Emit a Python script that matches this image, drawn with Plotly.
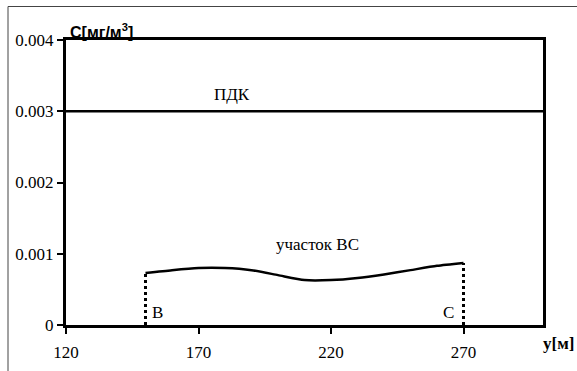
import plotly.graph_objects as go

# data
y_m = [150, 160, 170, 180, 190, 200, 210, 220, 230, 240, 250, 260, 270]
conc = [0.00073, 0.00077, 0.00080, 0.00080, 0.00077, 0.00070, 0.00063, 0.00063,
        0.00066, 0.00071, 0.00077, 0.00083, 0.00087]
pdk_x = [120, 300]
pdk_val = [0.003, 0.003]
x_ticks = [120, 170, 220, 270]
y_ticks = [0, 0.001, 0.002, 0.003, 0.004]
y_tick_labels = ["0", "0.001", "0.002", "0.003", "0.004"]

serif = "Times New Roman, Liberation Serif, serif"
sans = "Arial, Liberation Sans, sans-serif"

L, R, T, B = 66, 34, 40, 46
W, H = 577, 371
PW, PH = W - L - R, H - T - B


def px_x(p):
    return (p - L) / PW


def px_y(p):
    return (H - p - B) / PH


fig = go.Figure()

fig.add_trace(go.Scatter(x=pdk_x, y=pdk_val, mode="lines",
                         line=dict(color="black", width=2.5), hoverinfo="skip"))
fig.add_trace(go.Scatter(x=y_m, y=conc, mode="lines",
                         line=dict(color="black", width=2.5, shape="spline", smoothing=0.6),
                         hoverinfo="skip"))
fig.add_trace(go.Scatter(x=[y_m[0], y_m[0]], y=[0, conc[0]], mode="lines",
                         line=dict(color="black", width=3, dash="dot"), hoverinfo="skip"))
fig.add_trace(go.Scatter(x=[y_m[-1], y_m[-1]], y=[0, conc[-1]], mode="lines",
                         line=dict(color="black", width=3, dash="dot"), hoverinfo="skip"))

fig.update_layout(
    width=W, height=H,
    margin=dict(l=L, r=R, t=T, b=B, autoexpand=False),
    paper_bgcolor="white", plot_bgcolor="white",
    showlegend=False,
    font=dict(family=serif, size=17, color="black"),
    xaxis=dict(tickfont=dict(family=serif, size=17, color="black")),
    yaxis=dict(tickfont=dict(family=serif, size=17, color="black")),
)
fig.update_xaxes(range=[120, 300], tickvals=x_ticks, ticktext=[str(v) for v in x_ticks],
                 showgrid=False, zeroline=False, showline=True, linecolor="black",
                 linewidth=3, mirror=True, ticks="outside", ticklen=6, tickwidth=1.5,
                 tickcolor="black", automargin=False, ticklabelstandoff=4)
fig.update_yaxes(range=[0, 0.004], tickvals=y_ticks, ticktext=y_tick_labels,
                 showgrid=False, zeroline=False, showline=True, linecolor="black",
                 linewidth=3, mirror=True, ticks="outside", ticklen=6, tickwidth=1.5,
                 tickcolor="black", automargin=False)

annotations = [
    dict(text="ПДК", x=182.6, y=0.00323, xref="x", yref="y", showarrow=False,
         font=dict(family=serif, size=17)),
    dict(text="участок ВС", x=215, y=0.00113, xref="x", yref="y", showarrow=False,
         font=dict(family=serif, size=17)),
    dict(text="В", x=154.7, y=0.00017, xref="x", yref="y", showarrow=False,
         font=dict(family=serif, size=17)),
    dict(text="С", x=264.2, y=0.00017, xref="x", yref="y", showarrow=False,
         font=dict(family=serif, size=17)),
    dict(text="<b>C[мг/м<sup>3</sup>]</b>", x=px_x(68), y=px_y(31), xref="paper", yref="paper",
         showarrow=False, xanchor="left", yanchor="middle",
         font=dict(family=sans, size=16)),
    dict(text="<b>y[м]</b>", x=px_x(576), y=px_y(343), xref="paper", yref="paper",
         showarrow=False, xanchor="right", yanchor="middle",
         font=dict(family=serif, size=17)),
]
fig.update_layout(annotations=annotations)

# outer thin frame
fig.add_shape(type="rect", xref="paper", yref="paper",
              x0=px_x(8), x1=px_x(600), y0=px_y(400), y1=px_y(6.5),
              line=dict(color="#444", width=1), layer="below")

fig.write_html("out.html", config={"displayModeBar": False},
               post_script="document.body.style.margin='0';document.body.style.overflow='hidden';")
